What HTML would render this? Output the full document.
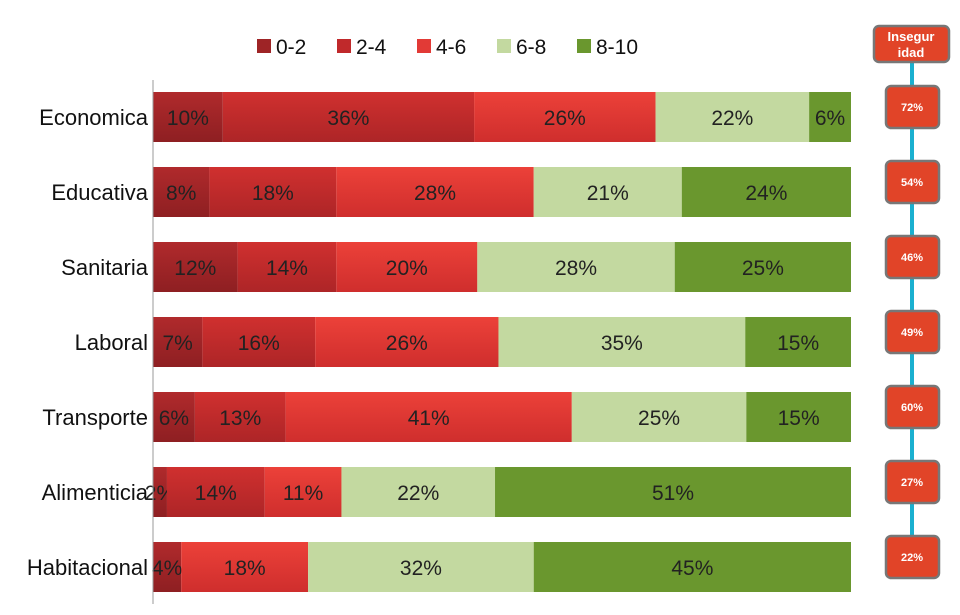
<!DOCTYPE html>
<html><head><meta charset="utf-8"><style>
body{margin:0;background:#fff;font-family:"Liberation Sans","DejaVu Sans",sans-serif}
</style></head><body>
<svg id="c" width="960" height="610" xmlns="http://www.w3.org/2000/svg">
<defs>
<linearGradient id="g0" x1="0" y1="0" x2="0" y2="1"><stop offset="0" stop-color="#b02a2c"/><stop offset="1" stop-color="#8e1f22"/></linearGradient>
<linearGradient id="g1" x1="0" y1="0" x2="0" y2="1"><stop offset="0" stop-color="#d0302f"/><stop offset="1" stop-color="#ad2527"/></linearGradient>
<linearGradient id="g2" x1="0" y1="0" x2="0" y2="1"><stop offset="0" stop-color="#ec4139"/><stop offset="1" stop-color="#cf2e2d"/></linearGradient>
</defs>
<g id="legend"></g>
<g id="bars"></g>
<line x1="153" y1="80" x2="153" y2="604" stroke="#999" stroke-width="1"/>
<g id="side"></g>
</svg>
<script>
const categories=["Economica","Educativa","Sanitaria","Laboral","Transporte","Alimenticia","Habitacional"];
const seriesNames=["0-2","2-4","4-6","6-8","8-10"];
const s02=[10,8,12,7,6,2,4];
const s24=[36,18,14,16,13,14,0];
const s46=[26,28,20,26,41,11,18];
const s68=[22,21,28,35,25,22,32];
const s810=[6,24,25,15,15,51,45];
const inseguridad=["72%","54%","46%","49%","60%","27%","22%"];
const series=[s02,s24,s46,s68,s810];
const fills=["url(#g0)","url(#g1)","url(#g2)","#c3d9a0","#6a972e"];
const legendFills=["#9e2426","#c0292b","#e23a36","#c3d9a0","#6a972e"];
const NS="http://www.w3.org/2000/svg";
const x0=153,x1=851,rowTop=92,rowStep=75,barH=50;
function yRow(i){return rowTop+i*rowStep;}
function mk(t,a,p){const e=document.createElementNS(NS,t);for(const k in a)e.setAttribute(k,a[k]);p.appendChild(e);return e;}
const bars=document.getElementById('bars');
categories.forEach((c,i)=>{
  let tot=0;series.forEach(s=>tot+=s[i]);
  const xs=v=>v/tot*(x1-x0);
  const lab=mk('text',{x:148,y:yRow(i)+barH/2+8,'text-anchor':'end','font-size':22,fill:'#111'},bars);
  lab.textContent=c;
  
  
  let cx=x0;
  series.forEach((s,k)=>{
    const v=s[i];if(!v)return;
    const w=xs(v);
    const r=mk('rect',{x:cx,y:yRow(i),width:w,height:barH,fill:fills[k]},bars);
    
    
    const t=mk('text',{x:cx+w/2,y:yRow(i)+barH/2+8,'text-anchor':'middle','font-size':21,fill:'#222'},bars);
    t.textContent=v+'%';
    
    
    cx+=w;
  });
});
const lg=document.getElementById('legend');
let lx=257;
seriesNames.forEach((n,k)=>{
  const r=mk('rect',{x:lx,y:39,width:14,height:14,fill:legendFills[k]},lg);
  
  
  const t=mk('text',{x:lx+19,y:54,'font-size':21,fill:'#111'},lg);
  t.textContent=n;
  
  
  lx+=19+n.length*12+25;
});
const sd=document.getElementById('side');
mk('line',{x1:912,y1:60,x2:912,y2:575,stroke:'#1ab0d0','stroke-width':4},sd);
const hb=mk('rect',{x:874,y:26,width:75,height:36,rx:5,fill:'#e14428',stroke:'#777','stroke-width':2.5},sd);


[["Insegur",41],["idad",57]].forEach(([s,y])=>{const t=mk('text',{x:911,y:y,'text-anchor':'middle','font-size':13,'font-weight':'bold',fill:'#fff'},sd);t.textContent=s;});
inseguridad.forEach((v,i)=>{
  const cy=yRow(i)+15;
  const r=mk('rect',{x:886,y:cy-21,width:53,height:42,rx:5,fill:'#e14428',stroke:'#777','stroke-width':2.5},sd);
  
  
  const t=mk('text',{x:912,y:cy+4,'text-anchor':'middle','font-size':11,'font-weight':'bold',fill:'#fff'},sd);
  t.textContent=v;
  
  
});
</script>
</body></html>
